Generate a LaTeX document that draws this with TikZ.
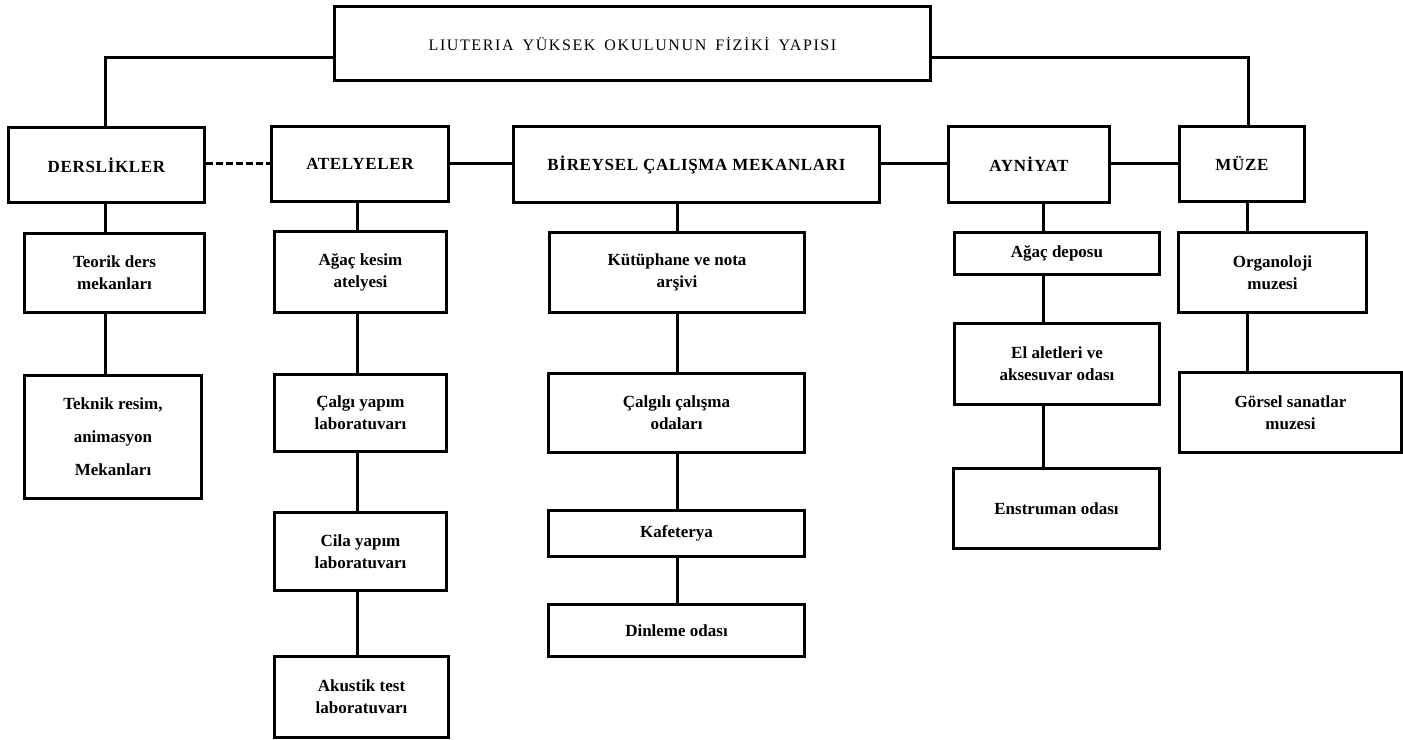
\documentclass[tikz,border=0pt]{standalone}
\usepackage{fontspec}
\setmainfont{Liberation Serif}
\newfontfamily\titlefont[LetterSpace=10]{Liberation Serif}
\newfontfamily\headfont[LetterSpace=4]{Liberation Serif}
\begin{document}
\begin{tikzpicture}[x=1pt,y=-1pt,
  box/.style={draw,line width=3pt,inner sep=0pt,anchor=north west,align=center,
    font=\fontsize{17}{22}\selectfont\bfseries},
  headbox/.style={box,font=\fontsize{17}{22}\selectfont\headfont\bfseries},
  conn/.style={line width=3pt},
  brokenconn/.style={line width=3pt,dash pattern=on 7pt off 3pt}]
\useasboundingbox (0,0) rectangle (1403,739);
% title
\node[box,minimum width=596pt,minimum height=74pt,font=\fontsize{16}{20}\selectfont\titlefont] (top) at (333,5)
  {LIUTERIA\hspace{9pt}YÜKSEK\hspace{9pt}OKULUNUN\hspace{9pt}FİZİKİ\hspace{9pt}YAPISI};
% level 1
\node[headbox,minimum width=196pt,minimum height=75pt] (ders) at (7,126) {DERSLİKLER};
\node[headbox,minimum width=177pt,minimum height=75pt] (atel) at (270,125) {ATELYELER};
\node[headbox,minimum width=366pt,minimum height=76pt] (bir) at (512,125) {BİREYSEL ÇALIŞMA MEKANLARI};
\node[headbox,minimum width=161pt,minimum height=76pt] (ayn) at (947,125) {AYNİYAT};
\node[headbox,minimum width=125pt,minimum height=75pt] (muze) at (1178,125) {MÜZE};
% DERSLIKLER column
\node[box,minimum width=180pt,minimum height=79pt] (teorik) at (23,232) {Teorik ders\\mekanları};
\node[box,minimum width=177pt,minimum height=123pt,font=\fontsize{17}{33}\selectfont\bfseries] (teknik) at (23,374) {Teknik resim,\\animasyon\\Mekanları};
% ATELYELER column
\node[box,minimum width=172pt,minimum height=81pt] (agac) at (273,230) {Ağaç kesim\\atelyesi};
\node[box,minimum width=172pt,minimum height=77pt] (calgi) at (273,373) {Çalgı yapım\\laboratuvarı};
\node[box,minimum width=172pt,minimum height=78pt] (cila) at (273,511) {Cila yapım\\laboratuvarı};
\node[box,minimum width=174pt,minimum height=81pt] (akustik) at (273,655) {Akustik test\\laboratuvarı};
% BIREYSEL column
\node[box,minimum width=255pt,minimum height=80pt] (kut) at (548,231) {Kütüphane ve nota\\arşivi};
\node[box,minimum width=256pt,minimum height=79pt] (calgili) at (547,372) {Çalgılı çalışma\\odaları};
\node[box,minimum width=256pt,minimum height=46pt] (kafe) at (547,509) {Kafeterya};
\node[box,minimum width=256pt,minimum height=52pt] (dinle) at (547,603) {\raisebox{-6pt}{Dinleme odası}};
% AYNIYAT column
\node[box,minimum width=205pt,minimum height=42pt] (depo) at (953,231) {Ağaç deposu};
\node[box,minimum width=205pt,minimum height=81pt] (el) at (953,322) {El aletleri ve\\aksesuvar odası};
\node[box,minimum width=206pt,minimum height=80pt] (enst) at (952,467) {Enstruman odası};
% MUZE column
\node[box,minimum width=188pt,minimum height=80pt] (organ) at (1177,231) {Organoloji\\muzesi};
\node[box,minimum width=222pt,minimum height=80pt] (gorsel) at (1178,371) {Görsel sanatlar\\muzesi};
% helper coordinates
\coordinate (lj) at (105,57);
\coordinate (rj) at (1248,57);
\coordinate (hy) at (0,163);
\coordinate (cD) at (105,0);
\coordinate (cT) at (357,0);
\coordinate (cB) at (677,0);
\coordinate (cA) at (1043,0);
\coordinate (cM) at (1247,0);
% top connectors
\draw[conn] (top.west |- lj) -- (lj) -- (cD |- ders.north);
\draw[conn] (top.east |- rj) -- (rj) -- (rj |- muze.north);
% horizontal level 1
\draw[brokenconn] (ders.east |- hy) -- (atel.west |- hy);
\draw[conn] (atel.east |- hy) -- (bir.west |- hy);
\draw[conn] (bir.east |- hy) -- (ayn.west |- hy);
\draw[conn] (ayn.east |- hy) -- (muze.west |- hy);
% vertical chains
\draw[conn] (cD |- ders.south) -- (cD |- teorik.north);
\draw[conn] (cD |- teorik.south) -- (cD |- teknik.north);
\draw[conn] (cT |- atel.south) -- (cT |- agac.north);
\draw[conn] (cT |- agac.south) -- (cT |- calgi.north);
\draw[conn] (cT |- calgi.south) -- (cT |- cila.north);
\draw[conn] (cT |- cila.south) -- (cT |- akustik.north);
\draw[conn] (cB |- bir.south) -- (cB |- kut.north);
\draw[conn] (cB |- kut.south) -- (cB |- calgili.north);
\draw[conn] (cB |- calgili.south) -- (cB |- kafe.north);
\draw[conn] (cB |- kafe.south) -- (cB |- dinle.north);
\draw[conn] (cA |- ayn.south) -- (cA |- depo.north);
\draw[conn] (cA |- depo.south) -- (cA |- el.north);
\draw[conn] (cA |- el.south) -- (cA |- enst.north);
\draw[conn] (cM |- muze.south) -- (cM |- organ.north);
\draw[conn] (cM |- organ.south) -- (cM |- gorsel.north);
\end{tikzpicture}
\end{document}
